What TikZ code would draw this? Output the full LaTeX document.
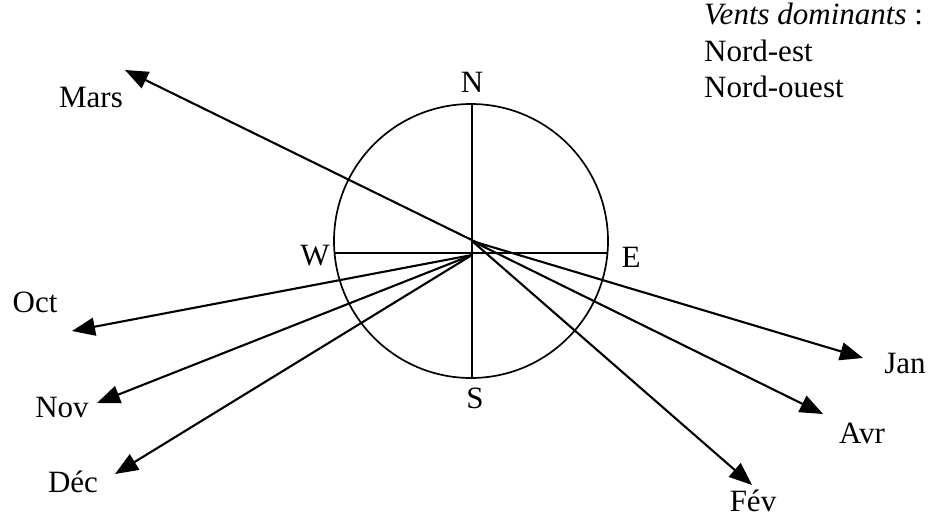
\documentclass[tikz,border=0pt]{standalone}
\usepackage{fontspec}
\setmainfont{Liberation Serif}
\usetikzlibrary{arrows.meta}
\tikzset{
  lbl/.style={inner sep=0pt, anchor=base, font=\fontsize{31}{36}\selectfont},
  leg/.style={inner sep=0pt, anchor=base west, font=\fontsize{31}{36}\selectfont},
  wind/.style={line width=2.1pt, -{Triangle[length=23pt,width=18pt]}},
  axis/.style={line width=2pt},
}
\begin{document}
\begin{tikzpicture}[x=1pt,y=-1pt]
\useasboundingbox (0,0) rectangle (933,519);
% compass
\coordinate (c) at (471,241);
\draw[line width=1.7pt] (c) circle [radius=137];
\coordinate (ntop) at (472,104);
\coordinate (sbot) at (472,378);
\coordinate (wl) at (334.5,253);
\coordinate (er) at (607.5,253);
\draw[axis] (ntop) -- (sbot);
\draw[line width=1.2pt] (wl) -- (er);
% labels
\node[lbl] (N) at (472,92) {N};
\node[lbl] (S) at (475,408) {S};
\node[lbl] (W) at (315,265) {W};
\node[lbl] (E) at (631,267) {E};
\node[lbl] (mars) at (91,107) {Mars};
\node[lbl] (oct) at (35,312) {Oct};
\node[lbl] (nov) at (62,417) {Nov};
\node[lbl] (dec) at (73,492) {Déc};
\node[lbl] (jan) at (905,373) {Jan};
\node[lbl] (avr) at (862,443) {Avr};
\node[lbl] (fev) at (753,511) {Fév};
% legend
\node[leg] (l1) at (704,25) {\textit{Vents dominants} :};
\node[leg] (l2) at (704,62) {Nord-est};
\node[leg] (l3) at (704,97) {Nord-ouest};
% origins and tips
\coordinate (om) at (486,247);
\coordinate (or) at (472,241);
\coordinate (ol) at (472,255);
\coordinate (tmars) at (125,70);
\coordinate (tjan) at (863,358);
\coordinate (tavr) at (823,414);
\coordinate (tfev) at (752,485);
\coordinate (toct) at (72,331);
\coordinate (tnov) at (97,403);
\coordinate (tdec) at (115,474);
\draw[wind] (om) -- (tmars);
\draw[wind] (or) -- (tjan);
\draw[wind] (or) -- (tavr);
\draw[wind] (or) -- (tfev);
\draw[wind] (ol) -- (toct);
\draw[wind] (ol) -- (tnov);
\draw[wind] (ol) -- (tdec);
\end{tikzpicture}
\end{document}
